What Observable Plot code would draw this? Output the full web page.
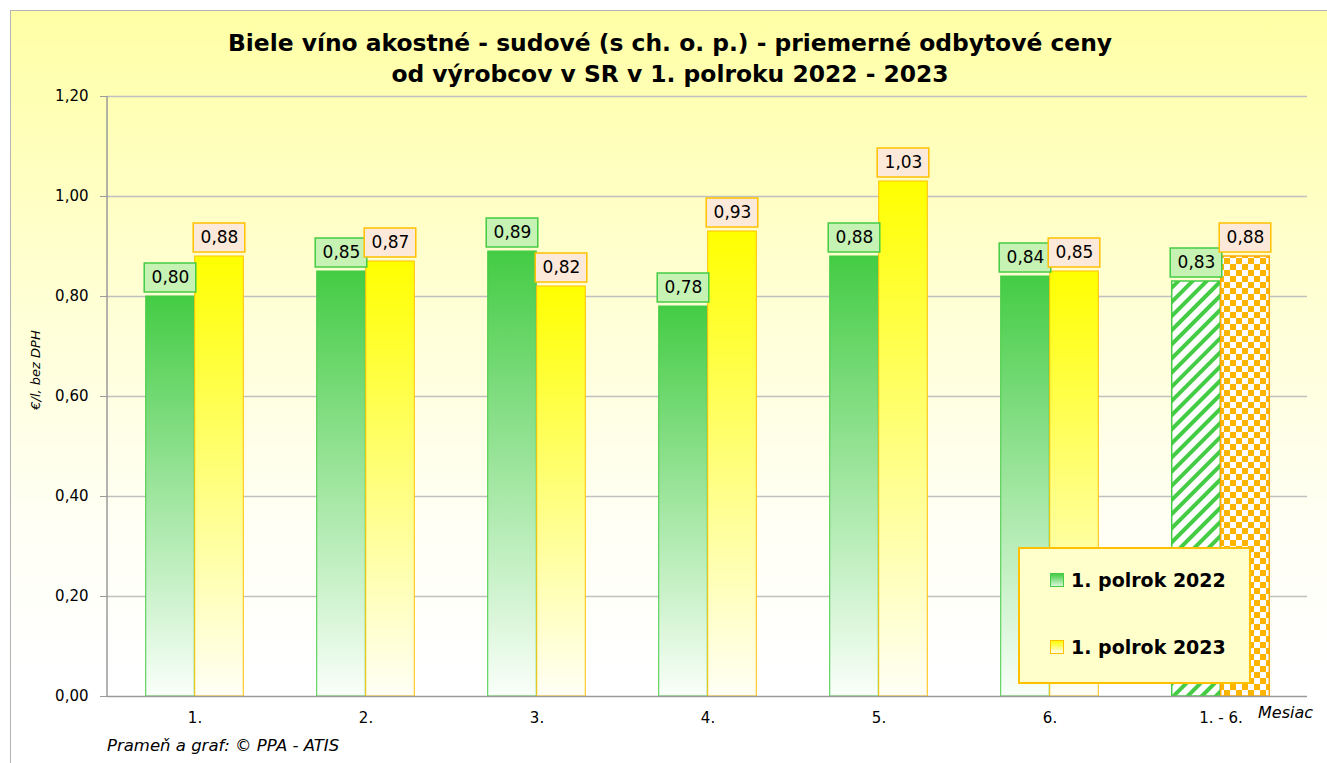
<!DOCTYPE html>
<html><head><meta charset="utf-8">
<script src="https://cdn.jsdelivr.net/npm/d3@7"></script>
<script src="https://cdn.jsdelivr.net/npm/@observablehq/plot@0.6"></script>
<style>
html,body{margin:0;padding:0;width:1327px;height:763px;overflow:hidden;background:#fff;font-family:"DejaVu Sans",sans-serif;}
#frame{position:absolute;left:10px;top:10px;width:1340px;height:780px;border:1.5px solid #b4b4b4;box-sizing:border-box;
  background:linear-gradient(to bottom,#FFFFA6 0%,#FFFFD2 35%,#FFFFF4 65%,#FFFFFF 85%);}
#chart{position:absolute;left:0;top:0}
#title{position:absolute;left:0;width:1340px;top:28px;text-align:center;font-weight:bold;font-size:23.4px;line-height:31px;color:#000}
#ylab{position:absolute;left:35px;top:370px;transform:translate(-50%,-50%) rotate(-90deg);font-style:italic;font-size:13px;white-space:nowrap}
#mesiac{position:absolute;left:1258px;top:703px;font-style:italic;font-size:16px}
#source{position:absolute;left:107px;top:736px;font-style:italic;font-size:16.5px}
#legend{position:absolute;left:1018px;top:547px;width:233px;height:137px;box-sizing:border-box;border:2px solid #FFC000;background:#FFFFCC}
.li{position:absolute;left:30px;font-weight:bold;font-size:19px;display:flex;align-items:center;white-space:nowrap}
.sw{width:12px;height:12px;margin-right:7px;border:1.5px solid}
</style></head>
<body>
<div id="frame"></div>
<div id="chart"></div>
<div id="title">Biele víno akostné - sudové (s ch. o. p.) - priemerné odbytové ceny<br>od výrobcov v SR v 1. polroku 2022 - 2023</div>
<div id="ylab">€/l, bez DPH</div>
<div id="mesiac">Mesiac</div>
<div id="source">Prameň a graf: © PPA - ATIS</div>
<div id="legend"></div>
<script>
const months = ["1.","2.","3.","4.","5.","6.","1. - 6."];
const price2022 = [0.80,0.85,0.89,0.78,0.88,0.84,0.83];
const price2023 = [0.88,0.87,0.82,0.93,1.03,0.85,0.88];
const yTicks = [0,0.2,0.4,0.6,0.8,1.0,1.2];
const seriesNames = ["1. polrok 2022","1. polrok 2023"];
const summaryLabel = "1. - 6.";

const rows = months.map((m,i)=>({m, a: price2022[i], b: price2023[i]}));
const fmt = v => v.toFixed(2).replace(".", ",");
const isSum = d => d.m === summaryLabel;
const notSum = d => d.m !== summaryLabel;

const W = 1327, H = 763, mL = 107, mR = 20, mT = 96, mB = 67;
const step = (W - mL - mR) / months.length;
const bw = 49;                     // bar width px
const gi = (step - 2*bw) / 2;      // group inset
const boxW = 52, boxH = 29, gap = 4;
const px = (yTicks[yTicks.length-1]) / (H - mT - mB); // data units per pixel
const boxL_a = gi + bw/2 - boxW/2, boxL_b = gi + bw + bw/2 - boxW/2;

const green = "#44CC44", yellow = "#FFFF00", gold = "#FFC000", orange = "#FFA800";

const plot = Plot.plot({
  width: W, height: H,
  marginLeft: mL, marginRight: mR, marginTop: mT, marginBottom: mB,
  style: {background: "transparent", fontFamily: "'DejaVu Sans', sans-serif", fontSize: "15px", color: "#000", overflow: "visible"},
  x: {type: "band", domain: months, padding: 0, tickSize: 0, tickPadding: 16, label: null},
  y: {domain: [0, 1.2], ticks: yTicks, tickFormat: fmt, tickSize: 7, tickPadding: 12, label: null},
  marks: [
    Plot.ruleY(yTicks.filter(t => t > 0), {stroke: "#c0c0c0", strokeWidth: 1.5}),
    Plot.barY(rows, {filter: notSum, x: "m", y: "a", insetLeft: gi, insetRight: step - gi - bw, fill: "url(#gGreen)", stroke: green, strokeWidth: 1}),
    Plot.barY(rows, {filter: notSum, x: "m", y: "b", insetLeft: gi + bw, insetRight: gi, fill: "url(#gYellow)", stroke: gold, strokeWidth: 1}),
    Plot.barY(rows, {filter: isSum, x: "m", y: "a", insetLeft: gi, insetRight: step - gi - bw, fill: "url(#pStripe)", stroke: green, strokeWidth: 1.5}),
    Plot.barY(rows, {filter: isSum, x: "m", y: "b", insetLeft: gi + bw, insetRight: gi, fill: "url(#pCheck)", stroke: orange, strokeWidth: 1.5}),
    Plot.ruleY([0], {stroke: "#9a9a9a", strokeWidth: 1.5}),
    Plot.barY(rows, {x: "m", y1: d => d.a + gap*px, y2: d => d.a + (gap+boxH)*px, insetLeft: boxL_a, insetRight: step - boxL_a - boxW, fill: "#C6F2B4", stroke: green, strokeWidth: 1.5}),
    Plot.barY(rows, {x: "m", y1: d => d.b + gap*px, y2: d => d.b + (gap+boxH)*px, insetLeft: boxL_b, insetRight: step - boxL_b - boxW, fill: "#FDE9D9", stroke: gold, strokeWidth: 1.5}),
    Plot.text(rows, {x: "m", y: "a", text: d => fmt(d.a), dx: -bw/2, dy: -(gap + boxH/2), fontSize: 17, fill: "#000"}),
    Plot.text(rows, {x: "m", y: "b", text: d => fmt(d.b), dx: bw/2, dy: -(gap + boxH/2), fontSize: 17, fill: "#000"})
  ]
});

const svg = d3.select(plot);
const defs = svg.insert("defs", ":first-child");
const gG = defs.append("linearGradient").attr("id","gGreen").attr("x1",0).attr("y1",0).attr("x2",0).attr("y2",1);
gG.append("stop").attr("offset","0%").attr("stop-color",green);
gG.append("stop").attr("offset","100%").attr("stop-color","#FAFFFA");
const gY = defs.append("linearGradient").attr("id","gYellow").attr("x1",0).attr("y1",0).attr("x2",0).attr("y2",1);
gY.append("stop").attr("offset","0%").attr("stop-color",yellow);
gY.append("stop").attr("offset","100%").attr("stop-color","#FFFFF6");
const pS = defs.append("pattern").attr("id","pStripe").attr("patternUnits","userSpaceOnUse").attr("width",10).attr("height",10).attr("patternTransform","rotate(45)");
pS.append("rect").attr("width",10).attr("height",10).attr("fill","#fff");
pS.append("rect").attr("width",4).attr("height",10).attr("fill",green);
const pC = defs.append("pattern").attr("id","pCheck").attr("patternUnits","userSpaceOnUse").attr("width",12).attr("height",12);
pC.append("rect").attr("width",12).attr("height",12).attr("fill","#FFB400");
pC.append("rect").attr("width",6).attr("height",6).attr("fill","#fff");
pC.append("rect").attr("x",6).attr("y",6).attr("width",6).attr("height",6).attr("fill","#fff");

// grey tick marks and axis line
svg.selectAll("[aria-label='y-axis tick']").attr("stroke","#9a9a9a");
const ys = plot.scale("y").range, xs = plot.scale("x").range;
svg.append("line").attr("x1",xs[0]).attr("x2",xs[0]).attr("y1",ys[0]).attr("y2",ys[1]).attr("stroke","#9a9a9a").attr("stroke-width",1.5);

document.getElementById("chart").appendChild(plot);

// legend
const lg = document.getElementById("legend");
const swStyles = [
  {bg: `linear-gradient(${green}, #d8f5d8)`, bd: green, top: 20},
  {bg: `linear-gradient(${yellow}, #fffff0)`, bd: gold, top: 87}
];
seriesNames.forEach((n,i) => {
  const el = document.createElement("div");
  el.className = "li"; el.style.top = swStyles[i].top + "px";
  const sw = document.createElement("span"); sw.className = "sw";
  sw.style.background = swStyles[i].bg; sw.style.borderColor = swStyles[i].bd;
  el.appendChild(sw); el.appendChild(document.createTextNode(n));
  lg.appendChild(el);
});
</script>
</body></html>
